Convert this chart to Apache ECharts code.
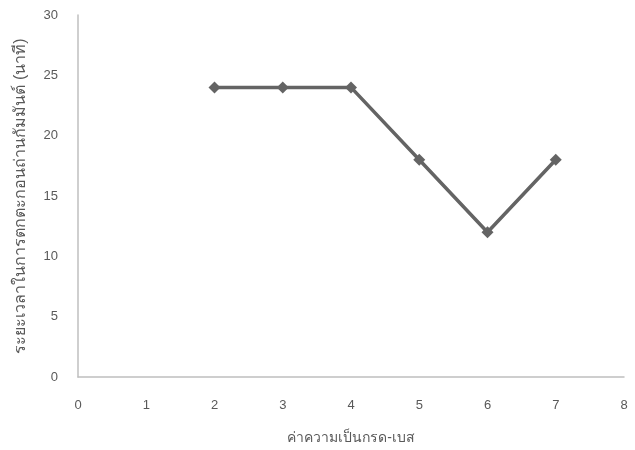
<!DOCTYPE html>
<html>
<head>
<meta charset="utf-8">
<script src="https://cdn.jsdelivr.net/npm/echarts@6/dist/echarts.min.js"></script>
<style>
html,body{margin:0;padding:0;background:#fff;}
#chart{width:635px;height:450px;}
</style>
</head>
<body>
<div id="chart"></div>
<script>
// pH values and the matching settling time of activated carbon (minutes)
const phValues = [2, 3, 4, 5, 6, 7];
const settleMinutes = [24, 24, 24, 18, 12, 18];
const xTitle = 'ค่าความเป็นกรด-เบส';
const yTitle = 'ระยะเวลาในการตกตะกอนถ่านกัมมันต์ (นาที)';

const chart = echarts.init(document.getElementById('chart'));
const fontFamily = '"Liberation Sans", "DejaVu Sans", sans-serif';
chart.setOption({
  animation: false,
  textStyle: { fontFamily },
  grid: { left: 78, right: 11, top: 15, bottom: 73, containLabel: false },
  xAxis: {
    type: 'value', min: 0, max: 8, interval: 1,
    name: xTitle, nameLocation: 'middle', nameGap: 54,
    nameTextStyle: { color: '#595959', fontSize: 14, fontFamily },
    axisLine: { show: true, lineStyle: { color: '#bfbfbf', width: 1.5 } },
    axisTick: { show: false },
    splitLine: { show: false },
    axisLabel: { color: '#595959', fontSize: 13, margin: 22 }
  },
  yAxis: {
    type: 'value', min: 0, max: 30, interval: 5,
    name: yTitle, nameLocation: 'middle', nameGap: 49,
    nameTextStyle: { color: '#595959', fontSize: 16, fontFamily },
    axisLine: { show: true, lineStyle: { color: '#bfbfbf', width: 1.5 } },
    axisTick: { show: false },
    splitLine: { show: false },
    axisLabel: { color: '#595959', fontSize: 13, margin: 20 }
  },
  series: [{
    type: 'line',
    data: phValues.map((p, i) => [p, settleMinutes[i]]),
    symbol: 'diamond', symbolSize: 12,
    lineStyle: { color: '#646464', width: 3.5 },
    itemStyle: { color: '#646464' }
  }]
});
</script>
</body>
</html>
